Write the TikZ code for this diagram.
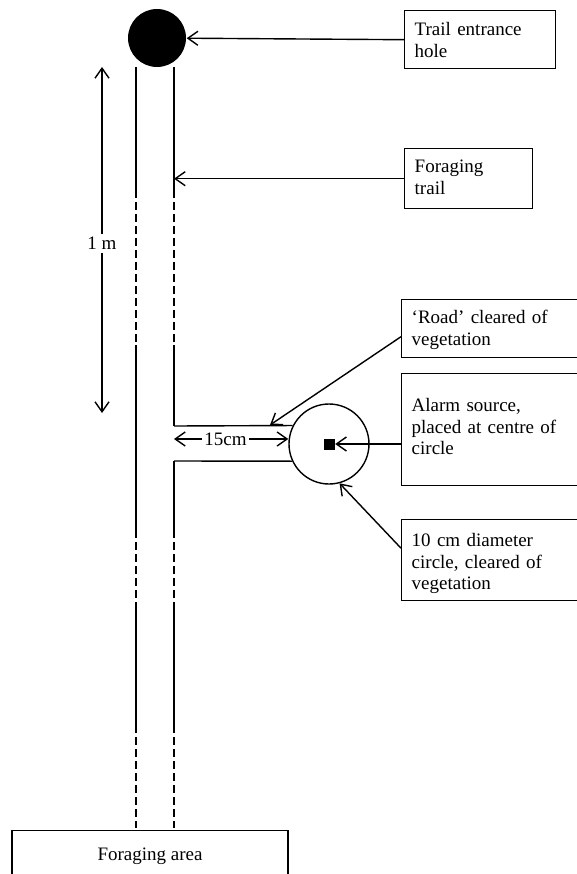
\documentclass[tikz,border=0pt]{standalone}
\usepackage{fontspec}
\setmainfont{Liberation Serif}
\usetikzlibrary{arrows.meta}

\tikzset{
  note/.style={draw, anchor=north west, align=left, inner xsep=10pt, inner ysep=0pt},
  pointer/.style={-{Straight Barb[length=10pt,width=14pt]}},
  span/.style={{Straight Barb[length=10pt,width=14pt]}-{Straight Barb[length=10pt,width=14pt]}},
  dash8/.style={dash pattern=on 8pt off 4pt}
}

\begin{document}
\begin{tikzpicture}[x=1pt, y=-1pt, line width=1.4pt, font=\fontsize{19}{21.5}\selectfont]
    \useasboundingbox (0,0) rectangle (576,874);
    \node[circle, fill=black, minimum size=58pt, inner sep=0pt] (hole) at (157,38) {};

    % edges of the trail
    \foreach \x in {136,174}
    {\draw (\x,67) -- (\x,190);
     \draw[dash8] (\x,190) -- (\x,345);
     \draw[dash8] (\x,530) -- (\x,610);
     \draw (\x,610) -- (\x,725);
     \draw[dash8] (\x,725) -- (\x,828);
    }
    \draw (136,345) -- (136,530);
    \draw (174,345) -- (174,426);
    \draw (174,461) -- (174,530);

    % side road and cleared circle
    \node[circle, draw, minimum size=80pt, inner sep=0pt] (ring) at (329,444) {};
    \node[fill=black, minimum size=11pt, inner sep=0pt] (src) at (329,444) {};
    \coordinate (rt) at (174,426);
    \coordinate (rb) at (174,461);
    \draw (rt) -- (ring.153);
    \draw (rb) -- (ring.205);

    % distances
    \coordinate (m1) at (174,439);
    \draw[span] (m1) -- (m1 -| ring.west) node[pos=0.45, fill=white, inner sep=2pt] (d15) {15cm};
    \coordinate (top) at (102,67);
    \coordinate (bot) at (102,413);
    \draw[span] (top) -- (bot) node[pos=0.51, fill=white, inner sep=3pt] (d1) {1 m};

    % labels
    \node[note, text width=131pt, text height=25pt, text depth=33pt] (holebox) at (404,10) {Trail entrance\\hole};
    \node[note, text width=108pt, text height=24pt, text depth=36pt] (trailbox) at (404,148) {Foraging\\trail};
    \node[note, text width=169pt, text height=24pt, text depth=34pt] (roadbox) at (401,299) {‘Road’ cleared of\\vegetation};
    \node[note, text width=169pt, text height=38pt, text depth=74pt] (alarmbox) at (401,373) {Alarm source,\\placed at centre of\\circle};
    \node[note, text width=169pt, text height=27pt, text depth=54pt] (ringbox) at (401,519) {10 cm diameter\\circle, cleared of\\vegetation};
    \node[draw, anchor=north, minimum width=276pt, text height=26pt, text depth=40pt] (area) at (150,830) {Foraging area};

    \coordinate (tr) at (174,173);
    \coordinate (rp) at (270,425);
    \draw[pointer] (holebox.west) -- (hole);
    \draw[pointer] (trailbox.west) -- (trailbox.west -| tr);
    \draw[pointer] ([yshift=-8pt]roadbox.west) -- (rp);
    \draw[pointer] (alarmbox.west |- src) -- (src);
    \draw[pointer] ([yshift=12pt]ringbox.west) -- (ring.-75);
\end{tikzpicture}
\end{document}
